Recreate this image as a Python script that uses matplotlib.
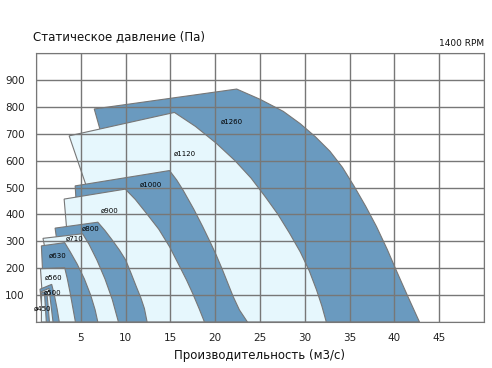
import numpy as np
import matplotlib
matplotlib.use("Agg")
import matplotlib.pyplot as plt

# fan outlines: bottom-left, top-left, peak, then the curve down to the x axis
# (x in m3/s, y in Pa)
d1260_x = [13.2, 6.5, 22.4, 25.0, 27.6, 29.5, 31.2, 32.8, 34.2, 35.5, 36.8, 38.0, 39.2, 40.3, 41.5, 42.8]
d1260_y = [0, 792, 866, 828, 783, 737, 688, 635, 575, 505, 430, 355, 270, 185, 95, 0]

d1120_x = [10.8, 3.7, 15.45, 17.8, 20.1, 22.2, 24.0, 25.6, 27.0, 28.3, 29.5, 30.5, 31.3, 31.9, 32.4]
d1120_y = [0, 692, 779, 727, 665, 600, 535, 465, 400, 330, 260, 190, 120, 60, 0]

d1000_x = [5.3, 4.37, 14.9, 15.7, 16.4, 17.6, 18.6, 19.4, 20.1, 20.8, 21.4, 22.0, 22.7, 23.6]
d1000_y = [0, 506, 563, 528, 491, 420, 355, 300, 250, 195, 145, 95, 45, 0]

d900_x = [4.3, 3.14, 9.97, 11.1, 12.3, 13.7, 14.9, 15.9, 16.8, 17.5, 18.2, 18.8]
d900_y = [0, 457, 494, 455, 405, 345, 280, 215, 156, 105, 50, 0]

d800_x = [3.6, 2.13, 6.9, 7.7, 8.5, 9.3, 10.0, 10.6, 11.2, 11.7, 12.1, 12.4]
d800_y = [0, 349, 371, 340, 305, 268, 231, 182, 131, 90, 50, 0]

d710_x = [2.6, 0.78, 5.2, 5.9, 6.8, 7.7, 8.5, 9.2]
d710_y = [0, 311, 328, 290, 230, 160, 85, 0]

d630_x = [1.0, 0.6, 3.2, 3.8, 4.6, 5.4, 6.1, 6.6, 6.9]
d630_y = [0, 283, 295, 262, 215, 160, 100, 45, 0]

d560_x = [0.9, 0.5, 3.2, 3.5, 3.8, 4.1, 4.4]
d560_y = [0, 198, 202, 160, 110, 55, 0]

d500_x = [0.8, 0.45, 1.75, 2.05, 2.35, 2.6]
d500_y = [0, 122, 140, 100, 50, 0]

d500i_x = [0.75, 0.55, 1.45, 1.65, 1.9]
d500i_y = [0, 112, 125, 70, 0]

d450_x = [0.7, 0.6, 1.2, 1.35, 1.5]
d450_y = [0, 108, 114, 60, 0]

d450i_x = [0.6, 0.62, 0.95, 1.05, 1.15]
d450i_y = [0, 100, 104, 55, 0]

fan_names = ["ø1260", "ø1120", "ø1000", "ø900", "ø800", "ø710", "ø630", "ø560", "ø500", "ø450"]
label_x = [21.9, 16.6, 12.85, 8.2, 6.05, 4.35, 2.43, 2.0, 1.8, 0.73]
label_y = [743, 625, 512, 414, 347, 309, 247, 163, 107, 51]

dark = "#6a9abf"
light = "#e6f7fd"
edge = "#777777"

shapes = [
    (d1260_x, d1260_y, dark),
    (d1120_x, d1120_y, light),
    (d1000_x, d1000_y, dark),
    (d900_x, d900_y, light),
    (d800_x, d800_y, dark),
    (d710_x, d710_y, light),
    (d630_x, d630_y, dark),
    (d560_x, d560_y, light),
    (d500_x, d500_y, dark),
    (d500i_x, d500i_y, light),
    (d450_x, d450_y, dark),
    (d450i_x, d450i_y, light),
]

fig = plt.figure(figsize=(4.92, 3.68), dpi=100)
ax = fig.add_axes([36 / 492, 46 / 368, 448 / 492, 269 / 368])

for xs, ys, c in shapes:
    ax.fill(xs, ys, facecolor=c, edgecolor=edge, linewidth=0.8, zorder=1)

for name, lx, ly in zip(fan_names, label_x, label_y):
    ax.text(lx, ly, name, fontsize=5, ha="center", va="center", zorder=4)

ax.set_xlim(0, 50)
ax.set_ylim(0, 1000)
ax.set_xticks(np.arange(0, 51, 5))
ax.set_yticks(np.arange(0, 1001, 100))
ax.set_xticklabels([""] + [str(v) for v in range(5, 50, 5)] + [""])
ax.set_yticklabels([""] + [str(v) for v in range(100, 1000, 100)] + [""])
ax.tick_params(length=0, labelsize=7.5, colors="#222222", pad=8)
ax.grid(True, color="#777777", linewidth=1)
ax.set_axisbelow(False)
for s in ax.spines.values():
    s.set_color("#777777")

fig.text(33 / 492, 1 - 37 / 368, "Статическое давление (Па)", fontsize=8.5,
         va="center", ha="left", color="#111111")
fig.text(484 / 492, 1 - 43 / 368, "1400 RPM", fontsize=6.5,
         va="center", ha="right", color="#111111")
fig.text(260 / 492, 1 - 355 / 368, "Производительность (м3/с)", fontsize=8.5,
         va="center", ha="center", color="#111111")

fig.savefig("out.png", dpi=100)
